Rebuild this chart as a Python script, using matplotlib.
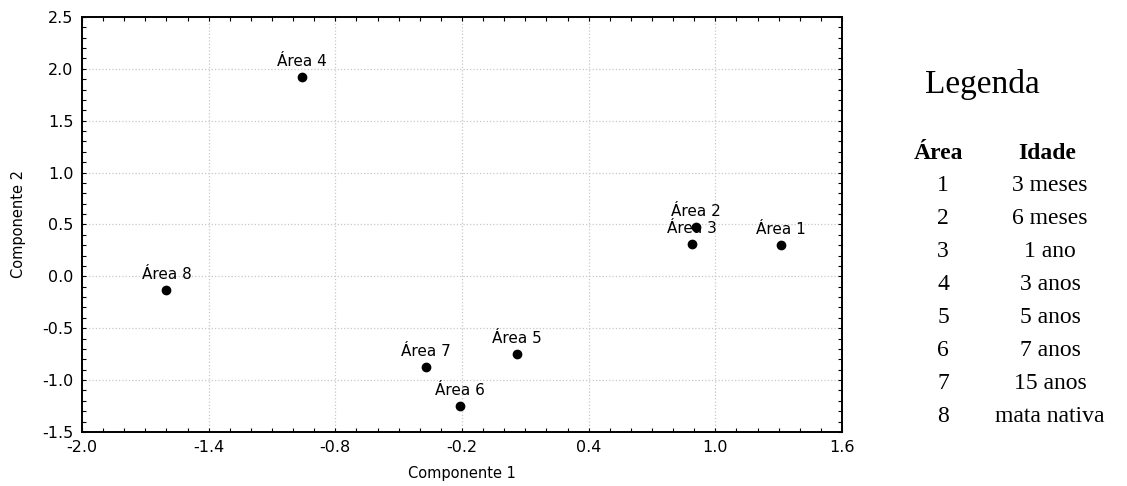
import matplotlib.pyplot as plt
from matplotlib.ticker import MultipleLocator, FixedLocator

# PCA scores
areas = ['Área 1', 'Área 2', 'Área 3', 'Área 4', 'Área 5', 'Área 6', 'Área 7', 'Área 8']
comp1 = [1.31, 0.91, 0.89, -0.96, 0.06, -0.21, -0.37, -1.60]
comp2 = [0.30, 0.48, 0.31, 1.92, -0.75, -1.25, -0.87, -0.13]

xticks = [-2.0, -1.4, -0.8, -0.2, 0.4, 1.0, 1.6]
yticks = [-1.5, -1.0, -0.5, 0.0, 0.5, 1.0, 1.5, 2.0, 2.5]

legend_area = ['1', '2', '3', '4', '5', '6', '7', '8']
legend_idade = ['3 meses', '6 meses', '1 ano', '3 anos', '5 anos', '7 anos', '15 anos', 'mata nativa']

W, H = 1127, 486
fig = plt.figure(figsize=(W / 100, H / 100), dpi=100)
ax = fig.add_axes([82 / W, 1 - 432 / H, 760 / W, 415 / H])

ax.plot(comp1, comp2, 'o', color='black', ms=6, zorder=3)
for name, x, y in zip(areas, comp1, comp2):
    ax.annotate(name, (x, y), xytext=(0, 11), textcoords='offset points',
                ha='center', va='center', fontsize=11, family='DejaVu Sans')

ax.set_xlim(-2.0, 1.6)
ax.set_ylim(-1.5, 2.5)
ax.xaxis.set_major_locator(FixedLocator(xticks))
ax.xaxis.set_minor_locator(MultipleLocator(0.1))
ax.yaxis.set_major_locator(FixedLocator(yticks))
ax.yaxis.set_minor_locator(MultipleLocator(0.1))
ax.xaxis.set_major_formatter(plt.FormatStrFormatter('%.1f'))
ax.yaxis.set_major_formatter(plt.FormatStrFormatter('%.1f'))
ax.tick_params(which='both', direction='in', top=True, right=True, length=3,
               width=0.8, labelsize=11.5)
ax.tick_params(which='major', pad=6)
ax.grid(True, which='major', linestyle=':', color='#c8c8c8', linewidth=0.9)
for s in ax.spines.values():
    s.set_linewidth(1.4)

ax.set_xlabel('Componente 1', fontsize=10.5, labelpad=8)
ax.set_ylabel('Componente 2', fontsize=10.5, labelpad=12)

# legend table on the right
serif = 'Liberation Serif'
fig.text(982 / W, 1 - 93 / H, 'Legenda', ha='center', va='baseline',
         fontsize=24, family=serif)
fig.text(938 / W, 1 - 159 / H, 'Área', ha='center', va='baseline',
         fontsize=17, family=serif, weight='bold')
fig.text(1047 / W, 1 - 159 / H, 'Idade', ha='center', va='baseline',
         fontsize=17, family=serif, weight='bold')
for i, (a, idade) in enumerate(zip(legend_area, legend_idade)):
    yb = 1 - (190.7 + 33 * i) / H
    fig.text(943 / W, yb, a, ha='center', va='baseline', fontsize=17, family=serif)
    fig.text(1050 / W, yb, idade, ha='center', va='baseline', fontsize=17, family=serif)

fig.savefig('out.png', dpi=100)
